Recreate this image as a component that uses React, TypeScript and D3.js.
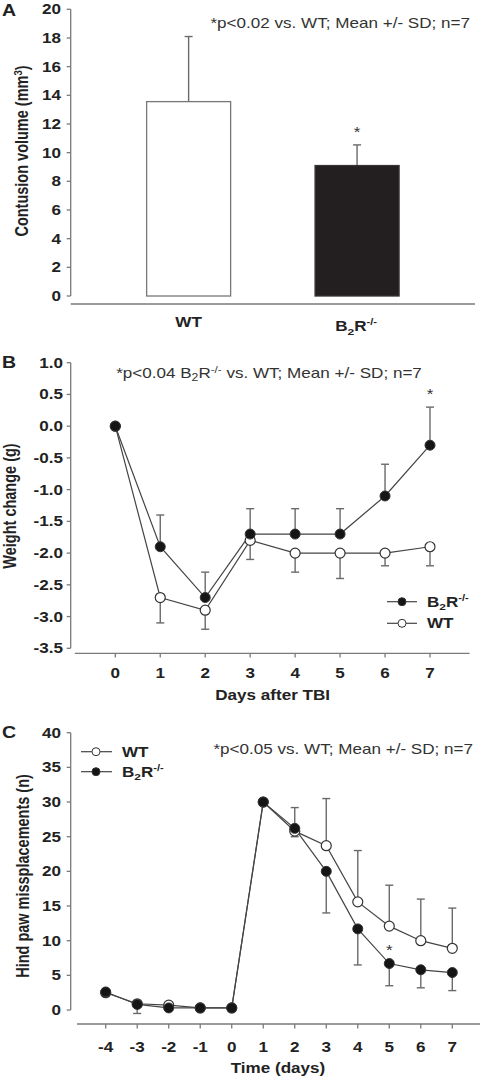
import React from "react";
import * as d3 from "d3";

// ---------- Panel A data ----------
const groupsA = ["WT", "B2R"];
const meanA = [13.56, 9.1];
const sdA = [4.54, 1.44];
const yTicksA = [0, 2, 4, 6, 8, 10, 12, 14, 16, 18, 20];

// ---------- Panel B data ----------
const daysB = [0, 1, 2, 3, 4, 5, 6, 7];
const b2rB = [0, -1.9, -2.7, -1.7, -1.7, -1.7, -1.1, -0.3];
const b2rSdB = [0, 0.5, 0.4, 0.4, 0.4, 0.4, 0.5, 0.6];
const wtB = [0, -2.7, -2.9, -1.8, -2.0, -2.0, -2.0, -1.9];
const wtSdB = [0, 0.4, 0.3, 0.3, 0.3, 0.4, 0.2, 0.3];
const yTicksB = [1.0, 0.5, 0.0, -0.5, -1.0, -1.5, -2.0, -2.5, -3.0, -3.5];

// ---------- Panel C data ----------
const daysC = [-4, -3, -2, -1, 0, 1, 2, 3, 4, 5, 6, 7];
const wtC = [2.5, 0.9, 0.7, 0.3, 0.3, 30, 25.8, 23.7, 15.6, 12.1, 10.0, 8.9];
const wtSdC = [0, 0, 0, 0, 0, 0, 3.4, 6.8, 7.4, 5.9, 6.0, 5.8];
const b2rC = [2.6, 0.8, 0.3, 0.3, 0.3, 30, 26.2, 20.0, 11.7, 6.7, 5.8, 5.4];
const b2rSdC = [0, 1.3, 0, 0, 0, 0, 1.2, 6.0, 5.2, 3.2, 2.6, 2.6];
const yTicksC = [0, 5, 10, 15, 20, 25, 30, 35, 40];

const FONT = "'Liberation Sans', Arial, Helvetica, sans-serif";
const AX = "#7a7a7a";
const ERR = "#6a6a6a";
const LINE = "#444";
const SX = 1.22;

const boldF = { fontFamily: FONT, fontWeight: "bold", fontSize: 14, fill: "#222" } as any;
const annF = { fontFamily: FONT, fontSize: 14, fill: "#333" } as any;

// horizontally stretched text (the reference figure is widened)
const T = ({ x, y, children, sx = SX, ...rest }: any) => (
  <text transform={`translate(${x},${y}) scale(${sx},1)`} {...rest}>{children}</text>
);

const B2RLabel = ({ x, y, anchor = "start", size = 14 }: any) => (
  <T x={x} y={y} textAnchor={anchor} {...boldF} fontSize={size}>
    B<tspan fontSize={size * 0.7} dy={size * 0.25}>2</tspan>
    <tspan dy={-size * 0.25}>R</tspan>
    <tspan fontSize={size * 0.65} dy={-size * 0.4}>-/-</tspan>
  </T>
);

export default function App() {
  // Panel A scales
  const yA = d3.scaleLinear().domain([0, 20]).range([296, 9.3]);
  const xA = d3.scalePoint().domain(groupsA).range([70.7, 475]).padding(0.7);
  const barW = 84;

  // Panel B scales
  const xB = d3.scaleLinear().domain([0, 7]).range([115.3, 430]);
  const yB = d3.scaleLinear().domain([-3.5, 1.0]).range([648.3, 362.7]);
  const xAxisB = [-0.9, 7.88];

  // Panel C scales
  const xC = d3.scaleLinear().domain([-4, 7]).range([105.7, 452.3]);
  const yC = d3.scaleLinear().domain([0, 40]).range([1010, 732.7]);
  const xAxisC = [-4.91, 7.88];

  const lineB = d3.line<number>().x((_, i) => xB(daysB[i])).y((v) => yB(v));
  const lineC = d3.line<number>().x((_, i) => xC(daysC[i])).y((v) => yC(v));

  const yAxisX = 70.7;

  const errBar = (x: number, y1: number, y2: number, key: string) => (
    <g key={key} stroke={ERR} strokeWidth={1.4}>
      <line x1={x} x2={x} y1={y1} y2={y2} />
      <line x1={x - 4} x2={x + 4} y1={y2} y2={y2} />
    </g>
  );

  return (
    <svg width={482} height={1078} style={{ position: "absolute", left: 0, top: 0, background: "#fff" }}>
      {/* ================= Panel A ================= */}
      <T x={2} y={16} {...boldF} fontSize={16}>A</T>
      <line x1={yAxisX} x2={yAxisX} y1={yA(20)} y2={yA(0)} stroke={AX} strokeWidth={1.3} />
      {yTicksA.map((t) => (
        <g key={"ta" + t}>
          <line x1={yAxisX - 4} x2={yAxisX} y1={yA(t)} y2={yA(t)} stroke={AX} strokeWidth={1.3} />
          <T x={61} y={yA(t)} dy="0.36em" textAnchor="end" {...boldF}>{t}</T>
        </g>
      ))}
      <line x1={yAxisX} x2={475} y1={304} y2={304} stroke={AX} strokeWidth={1.3} />
      <text transform={`translate(28,151) scale(${SX},1) rotate(-90)`} textAnchor="middle" {...boldF} fontSize={14.5}>
        Contusion volume (mm<tspan fontSize={9.5} dy={-5}>3</tspan><tspan dy={5}>)</tspan>
      </text>
      {groupsA.map((g, i) => {
        const cx = xA(g) as number;
        return (
          <g key={"bar" + g}>
            {errBar(cx, yA(meanA[i]), yA(meanA[i] + sdA[i]), "eA" + i)}
            <rect x={cx - barW / 2} y={yA(meanA[i])} width={barW} height={yA(0) - yA(meanA[i])}
              fill={i === 0 ? "#fff" : "#231f20"} stroke={i === 0 ? "#777" : "#333"} strokeWidth={1.3} />
          </g>
        );
      })}
      <T x={xA("B2R") as number} y={yA(meanA[1] + sdA[1]) - 8} textAnchor="middle" {...annF}>*</T>
      <T x={xA("WT") as number} y={327} textAnchor="middle" {...boldF}>WT</T>
      <B2RLabel x={(xA("B2R") as number) - 1} y={331} anchor="middle" />
      <T x={470} y={28} textAnchor="end" {...annF}>*p&lt;0.02 vs. WT; Mean +/- SD; n=7</T>

      {/* ================= Panel B ================= */}
      <T x={2} y={368} {...boldF} fontSize={16}>B</T>
      <line x1={yAxisX} x2={yAxisX} y1={yB(1.0)} y2={yB(-3.5)} stroke={AX} strokeWidth={1.3} />
      {yTicksB.map((t) => (
        <g key={"tb" + t}>
          <line x1={yAxisX - 4} x2={yAxisX} y1={yB(t)} y2={yB(t)} stroke={AX} strokeWidth={1.3} />
          <T x={63} y={yB(t)} dy="0.36em" textAnchor="end" {...boldF}>{t.toFixed(1)}</T>
        </g>
      ))}
      <line x1={xB(xAxisB[0])} x2={xB(xAxisB[1])} y1={653.3} y2={653.3} stroke={AX} strokeWidth={1.3} />
      {daysB.map((d) => (
        <g key={"xb" + d}>
          <line x1={xB(d)} x2={xB(d)} y1={653.3} y2={657.5} stroke={AX} strokeWidth={1.3} />
          <T x={xB(d)} y={678} textAnchor="middle" {...boldF}>{d}</T>
        </g>
      ))}
      <T x={xB(3.5)} y={700} textAnchor="middle" {...boldF}>Days after TBI</T>
      <text transform={`translate(16,506) scale(${SX},1) rotate(-90)`} textAnchor="middle" {...boldF} fontSize={14.5}>Weight change (g)</text>
      <T x={269} y={378} textAnchor="middle" {...annF}>
        *p&lt;0.04 B<tspan fontSize={10} dy={3}>2</tspan><tspan dy={-3}>R</tspan>
        <tspan fontSize={9.5} dy={-5}>-/-</tspan><tspan dy={5}> vs. WT; Mean +/- SD; n=7</tspan>
      </T>
      {daysB.map((d, i) => b2rSdB[i] > 0 ? errBar(xB(d), yB(b2rB[i]), yB(b2rB[i] + b2rSdB[i]), "eb1" + i) : null)}
      {daysB.map((d, i) => wtSdB[i] > 0 ? errBar(xB(d), yB(wtB[i]), yB(wtB[i] - wtSdB[i]), "eb2" + i) : null)}
      <path d={lineB(wtB) as string} fill="none" stroke={LINE} strokeWidth={1.2} />
      <path d={lineB(b2rB) as string} fill="none" stroke={LINE} strokeWidth={1.2} />
      {daysB.map((d, i) => (
        <circle key={"wb" + i} cx={xB(d)} cy={yB(wtB[i])} r={5} fill="#fff" stroke="#333" strokeWidth={1.2} />
      ))}
      {daysB.map((d, i) => (
        <circle key={"bb" + i} cx={xB(d)} cy={yB(b2rB[i])} r={5} fill="#151515" stroke="#333" strokeWidth={1} />
      ))}
      <T x={xB(7)} y={yB(b2rB[7] + b2rSdB[7]) - 8} textAnchor="middle" {...annF}>*</T>
      {/* legend B */}
      <line x1={387} x2={417} y1={601.7} y2={601.7} stroke={LINE} strokeWidth={1.2} />
      <circle cx={402} cy={601.7} r={4} fill="#151515" stroke="#333" />
      <B2RLabel x={427} y={606.5} />
      <line x1={387} x2={417} y1={623.3} y2={623.3} stroke={LINE} strokeWidth={1.2} />
      <circle cx={402} cy={623.3} r={4} fill="#fff" stroke="#333" />
      <T x={427} y={628.3} {...boldF}>WT</T>

      {/* ================= Panel C ================= */}
      <T x={2} y={738} {...boldF} fontSize={16}>C</T>
      <line x1={yAxisX} x2={yAxisX} y1={yC(40)} y2={yC(0)} stroke={AX} strokeWidth={1.3} />
      {yTicksC.map((t) => (
        <g key={"tc" + t}>
          <line x1={yAxisX - 4} x2={yAxisX} y1={yC(t)} y2={yC(t)} stroke={AX} strokeWidth={1.3} />
          <T x={61} y={yC(t)} dy="0.36em" textAnchor="end" {...boldF}>{t}</T>
        </g>
      ))}
      <line x1={xC(xAxisC[0])} x2={xC(xAxisC[1])} y1={1024} y2={1024} stroke={AX} strokeWidth={1.3} />
      {daysC.map((d) => (
        <g key={"xc" + d}>
          <line x1={xC(d)} x2={xC(d)} y1={1024} y2={1028.5} stroke={AX} strokeWidth={1.3} />
          <T x={xC(d)} y={1052} textAnchor="middle" {...boldF}>{d}</T>
        </g>
      ))}
      <T x={278} y={1073} textAnchor="middle" {...boldF}>Time (days)</T>
      <text transform={`translate(29,876) scale(${SX},1) rotate(-90)`} textAnchor="middle" {...boldF} fontSize={14.5}>Hind paw missplacements (n)</text>
      <T x={473} y={754} textAnchor="end" {...annF}>*p&lt;0.05 vs. WT; Mean +/- SD; n=7</T>
      {daysC.map((d, i) => wtSdC[i] > 0 ? errBar(xC(d), yC(wtC[i]), yC(wtC[i] + wtSdC[i]), "ec1" + i) : null)}
      {daysC.map((d, i) => b2rSdC[i] > 0 ? errBar(xC(d), yC(b2rC[i]), yC(b2rC[i] - b2rSdC[i]), "ec2" + i) : null)}
      <path d={lineC(wtC) as string} fill="none" stroke={LINE} strokeWidth={1.2} />
      <path d={lineC(b2rC) as string} fill="none" stroke={LINE} strokeWidth={1.2} />
      {daysC.map((d, i) => (
        <circle key={"wc" + i} cx={xC(d)} cy={yC(wtC[i])} r={5} fill="#fff" stroke="#333" strokeWidth={1.2} />
      ))}
      {daysC.map((d, i) => (
        <circle key={"bc" + i} cx={xC(d)} cy={yC(b2rC[i])} r={5} fill="#151515" stroke="#333" strokeWidth={1} />
      ))}
      <T x={xC(5)} y={yC(b2rC[9]) - 9} textAnchor="middle" {...annF}>*</T>
      {/* legend C */}
      <line x1={81} x2={112} y1={751.7} y2={751.7} stroke={LINE} strokeWidth={1.2} />
      <circle cx={96} cy={751.7} r={4} fill="#fff" stroke="#333" />
      <T x={122} y={756.7} {...boldF}>WT</T>
      <line x1={81} x2={112} y1={771.7} y2={771.7} stroke={LINE} strokeWidth={1.2} />
      <circle cx={96} cy={771.7} r={4} fill="#151515" stroke="#333" />
      <B2RLabel x={122} y={776.7} />
    </svg>
  );
}
